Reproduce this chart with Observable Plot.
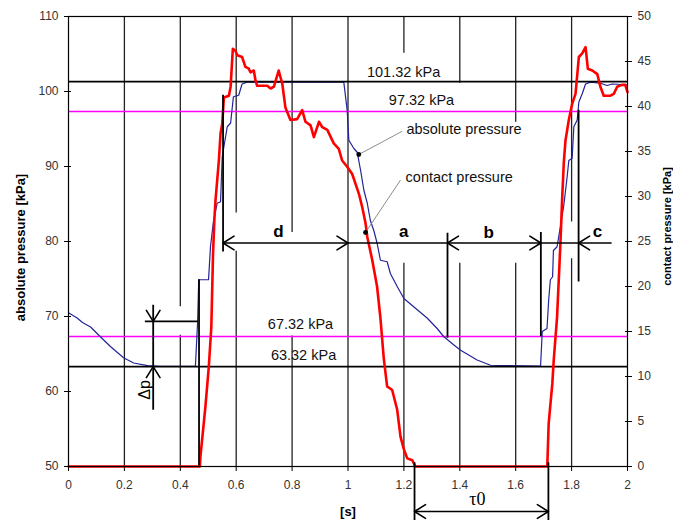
<!DOCTYPE html>
<html><head><meta charset="utf-8">
<script src="https://cdn.jsdelivr.net/npm/d3@7"></script>
<script src="https://cdn.jsdelivr.net/npm/@observablehq/plot@0.6"></script>
<style>body{margin:0;background:#fff}#chart svg{display:block}</style>
</head><body><div id="chart"></div>
<script>
// ---- data (time in s, absolute pressure in kPa, contact pressure in kPa) ----
const absTime = [0,0.031,0.05,0.079,0.114,0.150,0.197,0.233,0.283,0.329,0.454,0.462,0.466,0.501,0.508,0.519,0.532,0.544,0.550,0.568,0.580,0.590,0.609,0.621,0.639,0.985,0.997,1.003,1.021,1.033,1.045,1.057,1.069,1.080,1.092,1.104,1.116,1.140,1.152,1.176,1.200,1.235,1.283,1.319,1.343,1.379,1.403,1.462,1.510,1.556,1.689,1.695,1.712,1.718,1.724,1.732,1.735,1.748,1.760,1.772,1.784,1.790,1.802,1.808,1.820,1.826,1.838,1.850,1.868,1.903,1.927,1.945,2.0];
const absKPa = [70.5,69.8,69.2,68.6,67.3,66.0,64.5,63.8,63.45,63.35,63.35,69.3,74.9,74.9,79.3,82.8,85.1,85.3,91.3,95.3,95.8,99.3,99.5,101.0,101.25,101.25,97.5,93.5,92.4,91.9,89.5,86.8,85.1,82.8,81.5,79.8,77.5,77.3,75.7,74.0,72.4,71.3,69.8,68.4,67.3,66.2,65.5,64.2,63.5,63.45,63.4,68.0,68.4,72.2,74.9,75.3,78.8,79.3,82.0,84.8,88.6,90.8,91.1,95.3,96.2,98.6,99.7,101.0,101.25,101.1,100.8,101.0,100.9];
const conTime = [0,0.470,0.472,0.490,0.502,0.511,0.517,0.522,0.526,0.538,0.544,0.550,0.556,0.574,0.580,0.588,0.597,0.604,0.621,0.633,0.645,0.651,0.663,0.669,0.675,0.711,0.723,0.735,0.752,0.765,0.776,0.794,0.818,0.836,0.848,0.866,0.878,0.896,0.908,0.926,0.949,0.967,0.979,0.997,1.015,1.027,1.039,1.051,1.063,1.069,1.087,1.104,1.116,1.128,1.140,1.158,1.176,1.188,1.200,1.212,1.230,1.241,1.713,1.718,1.731,1.736,1.748,1.760,1.766,1.772,1.778,1.790,1.802,1.814,1.826,1.838,1.850,1.858,1.874,1.892,1.903,1.915,1.939,1.951,1.963,1.980,1.992,2.0];
const conKPa = [0,0,1.1,6.7,11.1,15.5,23.5,27.5,29.6,34.0,37.0,38.1,41.0,41.2,42.2,46.4,46.2,45.7,45.5,44.4,44.2,43.8,44.0,42.9,42.3,42.3,42.0,42.2,44.0,42.5,39.9,38.5,38.6,39.6,38.3,37.9,36.6,38.3,37.7,37.4,35.9,35.3,34.0,33.3,32.5,31.4,30.3,28.8,27.0,25.5,22.9,20.0,16.5,12.0,8.9,8.5,6.3,3.3,1.9,0.9,0.7,0,0,4.8,9.2,11.8,16.6,24.8,29.6,33.7,36.2,38.5,40.3,41.4,45.5,45.9,46.6,44.2,44.0,43.6,42.2,41.2,41.2,41.4,42.2,42.4,42.4,41.6];

const xTicks = [0,0.2,0.4,0.6,0.8,1,1.2,1.4,1.6,1.8,2];
const leftTicks = [50,60,70,80,90,100,110];
const rightTicks = [0,5,10,15,20,25,30,35,40,45,50];

const refLevels = [101.32, 97.32, 67.32, 63.32];
const refKinds = ["atm", "limit", "limit", "atm"];
const refLabels = ["101.32 kPa", "97.32 kPa", "67.32 kPa", "63.32 kPa"];
const refLabelT = [1.199, 1.263, 0.830, 0.841];
const refLabelV = [102.6, 98.8, 68.9, 64.8];

// vertical grid segments [time, from kPa, to kPa]
const gridSegs = [
  [0.2,50,110],[0.4,110,71.3],[0.4,67.5,50],[0.6,110,83.8],[0.6,78.7,50],
  [0.8,110,81.2],[0.8,67.4,50],[1.0,50,110],[1.2,110,105.1],[1.2,77.1,50],
  [1.4,110,101.1],[1.4,77.1,50],[1.6,110,95.9],[1.6,77.1,50],[1.8,110,82.6],[1.8,77.7,50]
];
// black marker lines [time, from kPa, to kPa]
const markerSegs = [[0.553,99.5,78.6],[0.467,74.9,50.1],[1.356,81.1,67.1],[1.69,81.2,67.3],[1.825,97.5,74.6],[0.303,71.5,57.5],[1.238,50.5,42.8],[1.717,50.5,42.8]];
// horizontal annotation lines [from t, to t, kPa]
const hSegs = [[0.553,1.945,79.8],[0.275,0.465,69.35],[1.238,1.717,44.0]];
// arrow heads [time, kPa, direction]
const heads = [[0.553,79.8,"left"],[1.0,79.8,"right"],[1.356,79.8,"left"],[1.69,79.8,"right"],[1.825,79.8,"left"],[0.303,69.35,"down"],[0.303,63.32,"up"],[1.238,44.0,"left"],[1.717,44.0,"right"]];

const segLetters = ["d","a","b","c"];
const segLetterT = [0.751,1.199,1.503,1.893];
const segLetterV = [81.3,81.3,81.2,81.3];

const seriesNames = ["absolute pressure","contact pressure"];
const seriesLabelT = [1.209, 1.206];
const seriesLabelV = [95.0, 88.6];
const leaderFrom = [[1.194,94.7],[1.188,88.2]];
const leaderTo = [[1.0386,91.6],[1.0626,81.2]];

// ---- build tables ----
const toLeft = c => 50 + c * 60 / 50;
const absData = absTime.map((t, i) => ({t, v: absKPa[i]}));
const conData = conTime.map((t, i) => ({t, v: toLeft(conKPa[i])}));
const refData = refLevels.map((v, i) => ({v, kind: refKinds[i]}));
const refText = refLabels.map((s, i) => ({s, t: refLabelT[i], v: refLabelV[i]}));
const letters = segLetters.map((s, i) => ({s, t: segLetterT[i], v: segLetterV[i]}));
const seriesText = seriesNames.map((s, i) => ({s, t: seriesLabelT[i], v: seriesLabelV[i]}));
const leaders = leaderFrom.map((a, i) => ({x1: a[0], y1: a[1], x2: leaderTo[i][0], y2: leaderTo[i][1]}));
const rot = {up: 0, right: 90, down: 180, left: -90};
const arrowHead = {draw(ctx, l) { const w = l * 0.62; ctx.moveTo(-w, l); ctx.lineTo(0, 0); ctx.lineTo(w, l); }};
const FONT = "'Liberation Sans', Arial, sans-serif";

const chart = Plot.plot({
  width: 673, height: 523,
  marginLeft: 68, marginRight: 46, marginTop: 16, marginBottom: 57,
  style: {fontFamily: FONT, background: "white", color: "black", overflow: "visible"},
  x: {domain: [0, 2], label: null},
  y: {domain: [50, 110], label: null},
  marks: [
    Plot.ruleX(gridSegs, {x: d => d[0], y1: d => d[1], y2: d => d[2], stroke: "#222", strokeWidth: 1.3}),
    Plot.ruleY(refData.filter(d => d.kind === "limit"), {y: "v", stroke: "#ff00ff", strokeWidth: 1.5}),
    Plot.line(absData, {x: "t", y: "v", stroke: "#23239a", strokeWidth: 1.2}),
    Plot.ruleY(refData.filter(d => d.kind === "atm"), {y: "v", stroke: "black", strokeWidth: 1.6}),
    Plot.line(conData, {x: "t", y: "v", stroke: "#ff0000", strokeWidth: 2.6}),
    Plot.ruleX(markerSegs, {x: d => d[0], y1: d => d[1], y2: d => d[2], stroke: "black", strokeWidth: 1.8}),
    Plot.ruleY(hSegs, {x1: d => d[0], x2: d => d[1], y: d => d[2], stroke: "black", strokeWidth: 1.6}),
    Plot.vector(heads, {x: d => d[0], y: d => d[1], rotate: d => rot[d[2]], length: 11, anchor: "start", shape: arrowHead, stroke: "black", strokeWidth: 1.6, fill: "none"}),
    Plot.link(leaders, {x1: "x1", y1: "y1", x2: "x2", y2: "y2", stroke: "#808080", strokeWidth: 0.9}),
    Plot.dot(leaderTo, {x: d => d[0], y: d => d[1], r: 2.4, fill: "black", stroke: "none"}),
    Plot.frame({stroke: "black", strokeWidth: 1.2}),
    Plot.axisX(xTicks, {tickSize: 5, tickPadding: 9, fontSize: 12, fill: "#333", tickFormat: d => String(+d.toFixed(1)), label: null}),
    Plot.axisY(leftTicks, {anchor: "left", tickSize: 4, tickPadding: 6, fontSize: 12, fill: "#333", tickFormat: d => String(d), label: null}),
    Plot.axisY(leftTicks, {anchor: "left", tickSize: -3, tickFormat: () => "", label: null}),
    Plot.axisY(rightTicks.map(toLeft), {anchor: "right", tickSize: 4, tickPadding: 6, fontSize: 12, fill: "#333", tickFormat: v => String(Math.round((v - 50) / 1.2)), label: null}),
    Plot.axisY(rightTicks.map(toLeft), {anchor: "right", tickSize: -3, tickFormat: () => "", label: null}),
    Plot.text(refText, {x: "t", y: "v", text: "s", fontSize: 14.5, fill: "#111"}),
    Plot.text(seriesText, {x: "t", y: "v", text: "s", textAnchor: "start", fontSize: 14.5, fill: "#111"}),
    Plot.text(letters, {x: "t", y: "v", text: "s", fontSize: 17, fontWeight: "bold"}),
    Plot.text(["Δp"], {x: 0.275, y: 60.2, rotate: -90, fontSize: 16}),
    Plot.text(["τ0"], {x: 1.463, y: 45.7, fontSize: 18, fontFamily: "'Liberation Serif', 'Times New Roman', serif"}),
    Plot.text(["absolute pressure [kPa]"], {frameAnchor: "left", textAnchor: "middle", dx: -48, dy: 6, rotate: -90, fontSize: 13, fontWeight: "bold"}),
    Plot.text(["contact pressure [kPa]"], {frameAnchor: "right", textAnchor: "middle", dx: 40, dy: -15, rotate: -90, fontSize: 11, fontWeight: "bold"}),
    Plot.text(["[s]"], {frameAnchor: "bottom", dy: 49, fontSize: 13, fontWeight: "bold"})
  ]
});
document.getElementById("chart").appendChild(chart);
</script>
</body></html>
